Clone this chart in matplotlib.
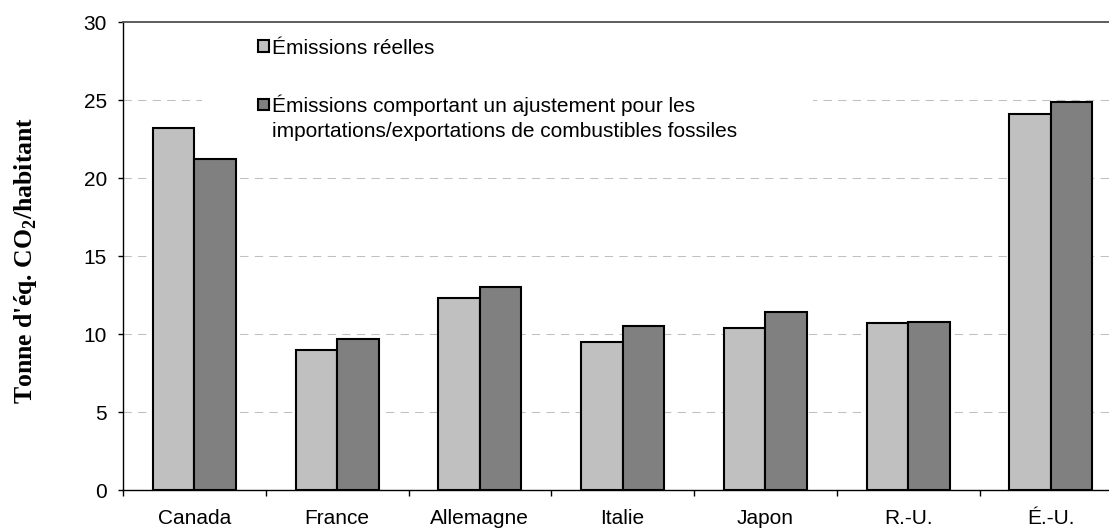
import matplotlib
matplotlib.use("Agg")
import matplotlib.pyplot as plt
from matplotlib.patches import Rectangle
import numpy as np

categories = ["Canada", "France", "Allemagne", "Italie", "Japon", "R.-U.", "É.-U."]
emissions_reelles = [23.2, 9.0, 12.3, 9.5, 10.4, 10.7, 24.1]
emissions_ajustees = [21.2, 9.7, 13.0, 10.5, 11.4, 10.8, 24.9]
series_labels = ["Émissions réelles",
                 "Émissions comportant un ajustement pour les\nimportations/exportations de combustibles fossiles"]
yticks = [0, 5, 10, 15, 20, 25, 30]

plt.rcParams['mathtext.fontset'] = 'custom'
plt.rcParams['mathtext.rm'] = 'Liberation Serif'
plt.rcParams['mathtext.bf'] = 'Liberation Serif:bold'

W, H = 1109, 529
fig = plt.figure(figsize=(W / 100, H / 100), dpi=100)
L, R, T, B = 123, 1122.25, 22, 490
ax = fig.add_axes([L / W, (H - B) / H, (R - L) / W, (B - T) / H])

def axx(px):
    return (px - L) / (R - L)

def axy(py):
    return (B - py) / (B - T)

FS = 15
x = np.arange(len(categories))
bw = 0.29
light, dark = "#C0C0C0", "#808080"
ax.bar(x - bw / 2, emissions_reelles, bw, color=light, edgecolor="black", linewidth=1.5, zorder=3)
ax.bar(x + bw / 2, emissions_ajustees, bw, color=dark, edgecolor="black", linewidth=1.5, zorder=3)

ax.set_xlim(-0.5, len(categories) - 0.5)
ax.set_ylim(0, 30)
ax.set_yticks(yticks)
ax.set_yticklabels([str(v) for v in yticks], fontsize=FS, family="Liberation Sans")
ax.set_xticks(x)
ax.set_xticklabels(categories, fontsize=FS, family="Liberation Sans")
ax.set_xticks(np.arange(-0.5, len(categories), 1.0), minor=True)
ax.tick_params(axis="x", which="major", length=0, pad=13.5)
ax.tick_params(axis="x", which="minor", length=4.5, width=1, direction="out")
ax.tick_params(axis="y", length=3.6, width=1, direction="out", pad=8)

for v in yticks[1:-1]:
    ax.axhline(v, color="#C0C0C0", linewidth=0.75, dashes=(8, 6), zorder=1)

ax.spines["right"].set_visible(False)
ax.spines["top"].set_color("#505050")
ax.spines["top"].set_linewidth(1.3)
ax.spines["left"].set_linewidth(1)
ax.spines["bottom"].set_linewidth(1)

# legend (white box, squares and labels)
ax.add_patch(Rectangle((axx(202), axy(165)), axx(813) - axx(202), axy(24) - axy(165),
                       transform=ax.transAxes, facecolor="white", edgecolor="none", zorder=2))
sq = 11
for (cy, col) in [(46, light), (104.5, dark)]:
    ax.add_patch(Rectangle((axx(258), axy(cy + sq / 2)), axx(258 + sq) - axx(258), axy(cy - sq / 2) - axy(cy + sq / 2),
                           transform=ax.transAxes, facecolor=col, edgecolor="black", linewidth=1.5, zorder=4))
ax.text(axx(272), axy(53.5), series_labels[0], transform=ax.transAxes, fontsize=FS,
        family="Liberation Sans", va="baseline", ha="left", zorder=4)
ax.text(axx(272), axy(137), series_labels[1], transform=ax.transAxes, fontsize=FS,
        family="Liberation Sans", va="baseline", ha="left", linespacing=1.38, zorder=4)

fig.text(26 / W, 1 - 260 / H, r"Tonne d'éq. CO$_{\mathbf{2}}$/habitant", rotation=90,
         fontsize=18.5, fontweight="bold", family="Liberation Serif", ha="center", va="center")

fig.savefig("out.png", dpi=100)
